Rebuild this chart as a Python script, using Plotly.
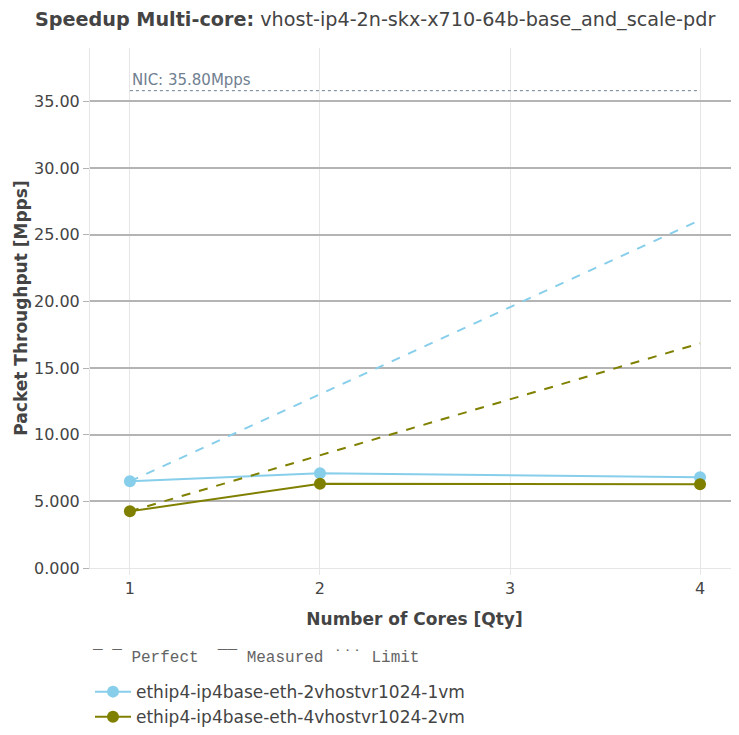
import plotly.graph_objects as go

# Speedup multi-core data
cores = [1, 2, 4]
names = ["ethip4-ip4base-eth-2vhostvr1024-1vm", "ethip4-ip4base-eth-4vhostvr1024-2vm"]
colors = ["rgb(135, 206, 235)", "rgb(128, 128, 0)"]
measured = [
    [6.50, 7.10, 6.80],
    [4.25, 6.32, 6.28],
]
perfect = [
    [6.50, 13.05, 26.10],
    [4.25, 8.45, 16.85],
]
nic_limit = 35.80
limit_x = [1, 4]
x_ticks = [1, 2, 3, 4]
y_ticks = [0, 5, 10, 15, 20, 25, 30, 35]

fig = go.Figure()

# limit line
fig.add_trace(go.Scatter(
    x=limit_x, y=[nic_limit, nic_limit], mode="lines",
    line=dict(color="rgb(112, 128, 144)", width=1, dash="dot"),
    showlegend=False, hoverinfo="skip"))

for name, color, m, p in zip(names, colors, measured, perfect):
    fig.add_trace(go.Scatter(
        x=cores, y=p, mode="lines",
        line=dict(color=color, width=2, dash="dash"),
        showlegend=False, name=name))
    fig.add_trace(go.Scatter(
        x=cores, y=m, mode="lines+markers", name=name,
        line=dict(color=color, width=2),
        marker=dict(size=12, color=color)))

fig.add_annotation(
    x=1, y=nic_limit, xref="x", yref="y", xanchor="left", yanchor="bottom",
    text="NIC: %.2fMpps" % nic_limit, showarrow=False,
    font=dict(size=15, color="rgb(112, 128, 144)"))

fig.add_annotation(
    x=0, y=-0.173, xref="paper", yref="paper", xanchor="left", yanchor="middle",
    text="¯ ¯ Perfect  ¯¯ Measured ˙˙˙ Limit", showarrow=False,
    font=dict(family="Liberation Mono, Courier New, monospace", size=16,
              color="rgb(100, 100, 100)"))

fig.update_layout(
    width=739, height=735,
    font=dict(family="DejaVu Sans", size=16, color="rgb(68, 68, 68)"),
    title=dict(text="<b>Speedup Multi-core:</b> vhost-ip4-2n-skx-x710-64b-base_and_scale-pdr",
               x=0.0365, xanchor="left", y=0.984, yanchor="middle", font=dict(size=19.2)),
    plot_bgcolor="white", paper_bgcolor="white",
    margin=dict(l=82, r=8, t=40, b=175),
    showlegend=True,
    legend=dict(x=0, y=-0.204, xanchor="left", yanchor="top",
                orientation="v", bgcolor="rgba(0,0,0,0)",
                itemwidth=36, font=dict(size=17)),
    xaxis=dict(
        title=dict(text="<b>Number of Cores [Qty]</b>", font=dict(size=17)),
        range=[0.79, 4.205], tickvals=x_ticks,
        showgrid=True, gridcolor="rgb(230, 230, 230)", gridwidth=1,
        showline=True, linecolor="rgb(230, 230, 230)", linewidth=1,
        zeroline=False, ticks="outside", tickcolor="rgb(230, 230, 230)", ticklen=6),
    yaxis=dict(
        title=dict(text="<b>Packet Throughput [Mpps]</b>", font=dict(size=17), standoff=2),
        range=[0, 39], tickvals=y_ticks, tickformat=".4r",
        showgrid=True, gridcolor="rgb(180, 180, 180)", gridwidth=2,
        showline=True, linecolor="rgb(230, 230, 230)", linewidth=1,
        zeroline=False, ticks="outside", tickcolor="rgb(180, 180, 180)", ticklen=6),
)

fig.write_html("out.html")
